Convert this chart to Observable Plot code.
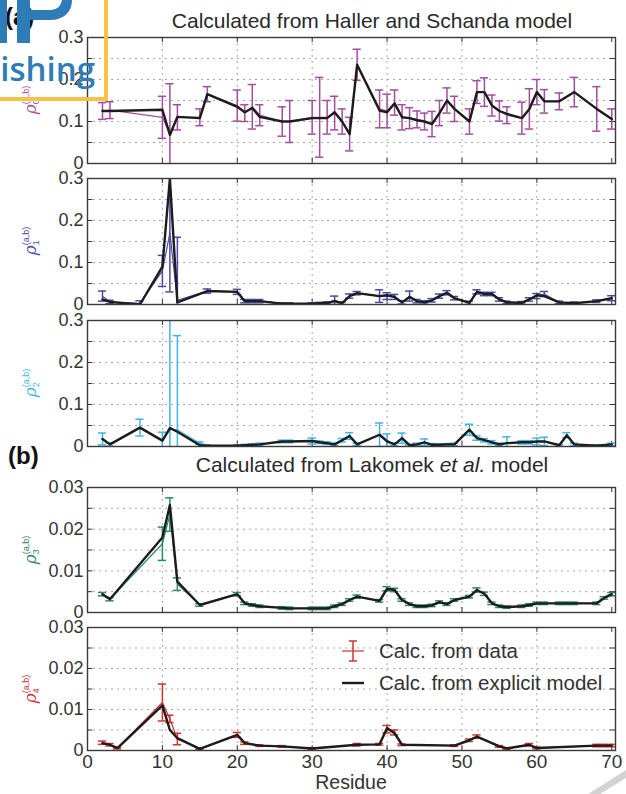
<!DOCTYPE html>
<html><head><meta charset="utf-8">
<script src="https://cdn.jsdelivr.net/npm/d3@7"></script>
<script src="https://cdn.jsdelivr.net/npm/@observablehq/plot@0.6"></script>
<style>
body{margin:0;background:#fff;}
#root{position:relative;width:626px;height:794px;overflow:hidden;font-family:"Liberation Sans",Arial,sans-serif;color:#2a2a2a;background:#fff;}
.abs{position:absolute;white-space:nowrap;}
.ylab{position:absolute;transform:translate(-50%,-50%) rotate(-90deg);font-family:"DejaVu Serif",serif;font-style:italic;font-size:17px;white-space:nowrap;}
.ylab .ss{display:inline-block;vertical-align:middle;font-size:9px;line-height:1.05;text-align:left;font-style:normal;font-family:"Liberation Sans",Arial,sans-serif;}
</style></head><body><div id="root"></div>
<script>
// residue numbers (x)
const residues = [2,3,4,7, 10,11,12,15,16, 20,21,22,23, 26,27, 30,31,32,33,34,35,36, 39,40,41,42,43,44,45,46,47,48,49, 51,52,53,54,55,56, 58,59,60,61, 63,64,65, 68,69,70];

// rho0 (Haller & Schanda)
const rho0Data  = [.125,.127,null,null, .11,.07,.11,.11,.165, .138,.12,.135,.115, .10,.10, .11,.11,.11,.12,.10,.07,.235, .13,.125,.145,.11,.108,.105,.10,.094,.12,.15,.13, .10,.17,.17,.138,.125,.115, .108,.13,.17,.148, .148,null,.17, .13,null,.106];
const rho0Err   = [.02,.02,null,null, .05,.12,.03,.02,.018, .037,.02,.053,.025, .035,.05, .04,.095,.04,.04,.03,.04,.037, .045,.04,.03,.03,.025,.02,.02,.03,.03,.03,.03, .03,.027,.034,.025,.024,.02, .038,.048,.03,.028, .02,null,.035, .053,null,.024];
const rho0Model = [.125,.125,null,null, .128,.068,.111,.108,.165, .135,.122,.132,.111, .10,.10, .108,.108,.108,.122,.10,.07,.235, .126,.122,.143,.11,.108,.103,.10,.094,.12,.15,.13, .10,.17,.17,.138,.125,.118, .108,.13,.17,.148, .148,null,.17, .13,null,.106];

// rho1
const rho1Data  = [.02,.006,null,.003, .08,.17,.01,null,.032, .03,.008,.008,.008, .002,.002, .002,.003,.004,.01,.003,.02,.027, .02,.02,.018,.005,.02,.008,.005,.01,.02,.028,.015, .004,.03,.025,.025,.012,.005, .004,.012,.02,.025, .005,null,.003, .008,null,.015];
const rho1Err   = [.012,.004,null,.006, .037,.14,.15,null,.005, .006,.004,.004,.004, .002,.002, .002,.002,.002,.01,.003,.005,.004, .015,.008,.006,.004,.012,.004,.004,.004,.005,.005,.004, .004,.005,.004,.004,.004,.003, .003,.004,.006,.006, .003,null,.003, .003,null,.006];
const rho1Model = [.012,.006,null,0, .09,.30,.005,null,.032, .03,.008,.008,.008, .002,.002, .002,.003,.004,.008,.003,.02,.027, .02,.022,.018,.005,.018,.008,.005,.01,.02,.028,.015, .004,.03,.025,.025,.012,.005, .004,.012,.022,.02, .005,null,.003, .008,null,.015];

// rho2
const rho2Data  = [.018,.005,null,.045, .014,.04,.04,.008,.002, .002,.003,.004,.005, .012,.012, .013,.01,.008,.005,.015,.025,.005, .028,.015,.005,.02,.003,.005,.01,.004,.004,.005,.005, .04,.02,.015,.01,.005,.008, .01,.01,.012,.012, .003,.027,.005, .002,null,.005];
const rho2Err   = [.014,.004,null,.02, .02,.3,.224,.003,.002, .002,.002,.002,.003, .003,.003, .007,.003,.003,.003,.004,.008,.003, .028,.015,.003,.012,.002,.003,.008,.003,.002,.002,.003, .013,.005,.004,.004,.003,.015, .004,.004,.008,.01, .002,.006,.003, .002,null,.003];
const rho2Model = [.018,.005,null,.045, .014,.044,.035,.003,.002, .002,.003,.004,.005, .012,.012, .013,.01,.008,.005,.015,.025,.005, .028,.012,.005,.02,.003,.005,.01,.004,.004,.005,.005, .04,.02,.015,.01,.005,.008, .01,.01,.012,.012, .003,.027,.005, .002,null,.005];

// rho3 (Lakomek et al.)
const rho3Data  = [.0044,.0032,null,null, .0165,.0235,.0068,.0018,null, .0044,.0022,.0018,.0015, .0011,.001, .001,.001,.001,.0015,.002,.003,.0038, .0028,.0057,.0054,.003,.002,.0015,.0015,.0017,.0025,.002,.003, .0038,.0054,.0045,.0022,.0015,.0013, .0015,.0018,.0022,.0022, .0022,.0022,.0022, .0022,.0035,.0044];
const rho3Err   = [.0004,.0004,null,null, .004,.004,.0015,.0003,null, .0004,.0003,.0003,.0003, .0003,.0003, .0003,.0003,.0003,.0003,.0003,.0003,.0004, .0003,.0005,.0004,.0003,.0003,.0003,.0003,.0003,.0003,.0003,.0003, .0003,.0005,.0004,.0003,.0003,.0003, .0003,.0003,.0003,.0003, .0003,.0003,.0003, .0003,.0003,.0004];
const rho3Model = [.0044,.0032,null,null, .018,.0258,.0074,.0018,null, .0044,.0022,.0018,.0015, .0011,.001, .001,.001,.001,.0015,.002,.003,.0038, .0028,.0057,.0054,.003,.002,.0015,.0015,.0017,.0025,.002,.003, .0038,.0054,.0045,.0022,.0015,.0013, .0015,.0018,.0022,.0022, .0022,.0022,.0022, .0022,.0035,.0044];

// rho4
const rho4Data  = [.0019,.0014,.0006,null, .0117,.0077,.0028,.0004,null, .0038,.0018,null,.0012, .001,null, .0005,null,null,null,null,null,.0014, .0015,.0052,.0044,.0014,null,null,null,null,null,null,.0012, .0025,.0034,null,null,.001,.0005, null,.0014,.0006,null, null,null,null, .0012,.0012,.0012];
const rho4Err   = [.0004,.0003,.0002,null, .0045,.0009,.0014,.0002,null, .0006,.0003,null,.0002, .0002,null, .0002,null,null,null,null,null,.0003, .0002,.0009,.0006,.0002,null,null,null,null,null,null,.0002, .0003,.0004,null,null,.0002,.0002, null,.0003,.0002,null, null,null,null, .0003,.0003,.0003];
const rho4Model = [.0018,.0014,.0006,null, .011,.005,.003,.0004,null, .0038,.0018,null,.0012, .001,null, .0005,null,null,null,null,null,.0014, .0015,.0055,.0042,.0014,null,null,null,null,null,null,.0012, .0025,.0034,null,null,.001,.0005, null,.0014,.0006,null, null,null,null, .0012,.0012,.0012];

// axis ticks
const xTicks = [10,20,30,40,50,60,70];
const xLabels = [0,10,20,30,40,50,60,70];
const yTicksA = [0.05,0.1,0.15,0.2,0.25];
const yLabelsA = [0,0.1,0.2,0.3];
const yTicksB = [0.005,0.01,0.015,0.02,0.025];
const yLabelsB = [0,0.01,0.02,0.03];

const titleA = "Calculated from Haller and Schanda model";
const legendLabels = ["Calc. from data","Calc. from explicit model"];

const panels = [
  {top:37,  bottom:163, ymax:0.3,  ticks:yTicksA, labels:yLabelsA, data:rho0Data, err:rho0Err, model:rho0Model, color:"#a34d9e", sub:"0"},
  {top:178, bottom:304, ymax:0.3,  ticks:yTicksA, labels:yLabelsA, data:rho1Data, err:rho1Err, model:rho1Model, color:"#4b4aa6", sub:"1"},
  {top:320, bottom:446, ymax:0.3,  ticks:yTicksA, labels:yLabelsA, data:rho2Data, err:rho2Err, model:rho2Model, color:"#3fb6e6", sub:"2"},
  {top:487, bottom:612, ymax:0.03, ticks:yTicksB, labels:yLabelsB, data:rho3Data, err:rho3Err, model:rho3Model, color:"#2c8a66", sub:"3"},
  {top:627, bottom:750, ymax:0.03, ticks:yTicksB, labels:yLabelsB, data:rho4Data, err:rho4Err, model:rho4Model, color:"#cc3535", sub:"4", last:true}
];

const root = document.getElementById("root");
const FONT = '"Liberation Sans", Arial, sans-serif';

function makePanel(p){
  const rows = residues.map((r,i)=>({r, v:p.data[i], e:p.err[i], m:p.model[i]}));
  const dRows = rows.filter(d=>d.v!=null);
  const eRows = dRows.filter(d=>d.e!=null);
  const mRows = rows.filter(d=>d.m!=null);
  const mt = 4, mb = p.last ? 32 : 4;
  const ymax = p.ymax;
  const axisMarks = [
    Plot.axisY(p.labels, {tickSize:0, tickPadding:4, label:null, tickFormat:d=>String(d), fontSize:18, fill:"#333"})
  ];
  if (p.last) axisMarks.push(Plot.axisX(xLabels, {tickSize:0, tickPadding:4, label:null, fontSize:19, fill:"#333"}));
  const chart = Plot.plot({
    width:626, height:(p.bottom-p.top)+mt+mb,
    marginTop:mt, marginBottom:mb, marginLeft:87, marginRight:11,
    style:{fontFamily:FONT, background:"transparent", overflow:"visible"},
    x:{domain:[0,70.5], axis: p.last ? undefined : null},
    y:{domain:[0,ymax]},
    marks:[
      Plot.gridY(p.ticks, {stroke:"#8a8a8a", strokeOpacity:0.75, strokeDasharray:"2,4", strokeWidth:1}),
      Plot.gridX(xTicks.slice(0,6), {stroke:"#8a8a8a", strokeOpacity:0.75, strokeDasharray:"2,4", strokeWidth:1}),
      Plot.ruleY(p.ticks, {x1:0, x2:0.7, stroke:"#333"}),
      Plot.ruleY(p.ticks, {x1:69.8, x2:70.5, stroke:"#333"}),
      Plot.ruleX(xTicks, {y1:0, y2:ymax*0.04, stroke:"#333"}),
      Plot.ruleX(xTicks, {y1:ymax*0.96, y2:ymax, stroke:"#333"}),
      Plot.line(dRows, {x:"r", y:"v", stroke:p.color, strokeWidth:1.2, clip:true}),
      Plot.ruleX(eRows, {x:"r", y1:d=>d.v-d.e, y2:d=>d.v+d.e, stroke:p.color, strokeWidth:1.5, clip:true}),
      Plot.ruleY(eRows, {y:d=>d.v+d.e, x1:d=>d.r-0.55, x2:d=>d.r+0.55, stroke:p.color, strokeWidth:1.5, clip:true}),
      Plot.ruleY(eRows, {y:d=>d.v-d.e, x1:d=>d.r-0.55, x2:d=>d.r+0.55, stroke:p.color, strokeWidth:1.5, clip:true}),
      Plot.line(mRows, {x:"r", y:"m", stroke:"#1c1c1c", strokeWidth:2.4, clip:true}),
      Plot.frame({stroke:"#3a3a3a", strokeWidth:1.4}),
      ...axisMarks
    ]
  });
  chart.style.position = "absolute";
  chart.style.left = "0px";
  chart.style.top = (p.top - mt) + "px";
  root.appendChild(chart);

  const yl = document.createElement("div");
  yl.className = "ylab";
  yl.style.left = "30px";
  yl.style.top = ((p.top+p.bottom)/2) + "px";
  yl.style.color = p.color;
  yl.innerHTML = 'ρ<span class="ss">(a,b)<br>' + p.sub + '</span>';
  root.appendChild(yl);
}
panels.forEach(makePanel);

function addText(txt, css){
  const d = document.createElement("div");
  d.className = "abs";
  d.innerHTML = txt;
  Object.assign(d.style, css);
  root.appendChild(d);
  return d;
}
addText(titleA, {left:"372px", top:"9px", transform:"translateX(-50%)", fontSize:"21px", color:"#2a2a2a"});
addText('Calculated from Lakomek <i>et al.</i> model', {left:"372px", top:"453px", transform:"translateX(-50%)", fontSize:"21px", color:"#2a2a2a"});
addText("Residue", {left:"351px", top:"771px", transform:"translateX(-50%)", fontSize:"19.5px", color:"#333"});
addText("(b)", {left:"8px", top:"442px", fontSize:"24px", fontWeight:"bold", color:"#111"});
addText("(a)", {left:"5px", top:"3px", fontSize:"24px", fontWeight:"bold", color:"#111"});

// legend
const lg = document.createElementNS("http://www.w3.org/2000/svg","svg");
lg.setAttribute("width","290"); lg.setAttribute("height","70");
lg.style.position="absolute"; lg.style.left="335px"; lg.style.top="636px";
lg.innerHTML = `
  <line x1="18" y1="5" x2="18" y2="25" stroke="#cc3535" stroke-width="1.5"/>
  <line x1="14" y1="5" x2="22" y2="5" stroke="#cc3535" stroke-width="1.5"/>
  <line x1="14" y1="25" x2="22" y2="25" stroke="#cc3535" stroke-width="1.5"/>
  <line x1="7" y1="15" x2="29" y2="15" stroke="#cc3535" stroke-width="1.2"/>
  <line x1="7" y1="47" x2="29" y2="47" stroke="#1c1c1c" stroke-width="2.4"/>
  <text x="44" y="22" font-family='Liberation Sans, Arial, sans-serif' font-size="20.5" fill="#333">${legendLabels[0]}</text>
  <text x="44" y="54" font-family='Liberation Sans, Arial, sans-serif' font-size="20.5" fill="#333">${legendLabels[1]}</text>`;
root.appendChild(lg);

// publisher watermark overlay (partial logo, as in the source image)
const wm = document.createElementNS("http://www.w3.org/2000/svg","svg");
wm.setAttribute("width","120"); wm.setAttribute("height","110");
wm.style.position="absolute"; wm.style.left="0px"; wm.style.top="0px";
wm.innerHTML = `
  <rect x="0" y="0" width="7" height="43" fill="#2d7cb8"/>
  <path fill="#2d7cb8" fill-rule="evenodd" d="M17,-20 H50 C64,-20 72,-10 72,0 C72,12 64,20 50,20 H30 V43 H17 Z M30,-20 V10 H50 C57,10 62,6 62,-2 C62,-10 57,-20 50,-20 Z"/>
  <text x="95" y="81" text-anchor="end" font-family="Open Sans, Noto Sans, sans-serif" font-weight="600" font-size="33" fill="#2d7cb8">ishing</text>
  <line x1="106" y1="0" x2="106" y2="101" stroke="#f6c344" stroke-width="4"/>
  <line x1="0" y1="99" x2="108" y2="99" stroke="#f6c344" stroke-width="4"/>`;
root.appendChild(wm);

// grey scan artefact at the lower right corner
const cr = document.createElementNS("http://www.w3.org/2000/svg","svg");
cr.setAttribute("width","60"); cr.setAttribute("height","60");
cr.style.position="absolute"; cr.style.left="566px"; cr.style.top="734px";
cr.innerHTML = `<path d="M22,60 L60,36 L60,44 L34,60 Z" fill="#c8c8c8" opacity="0.8"/>`;
root.appendChild(cr);
</script>
</body></html>
